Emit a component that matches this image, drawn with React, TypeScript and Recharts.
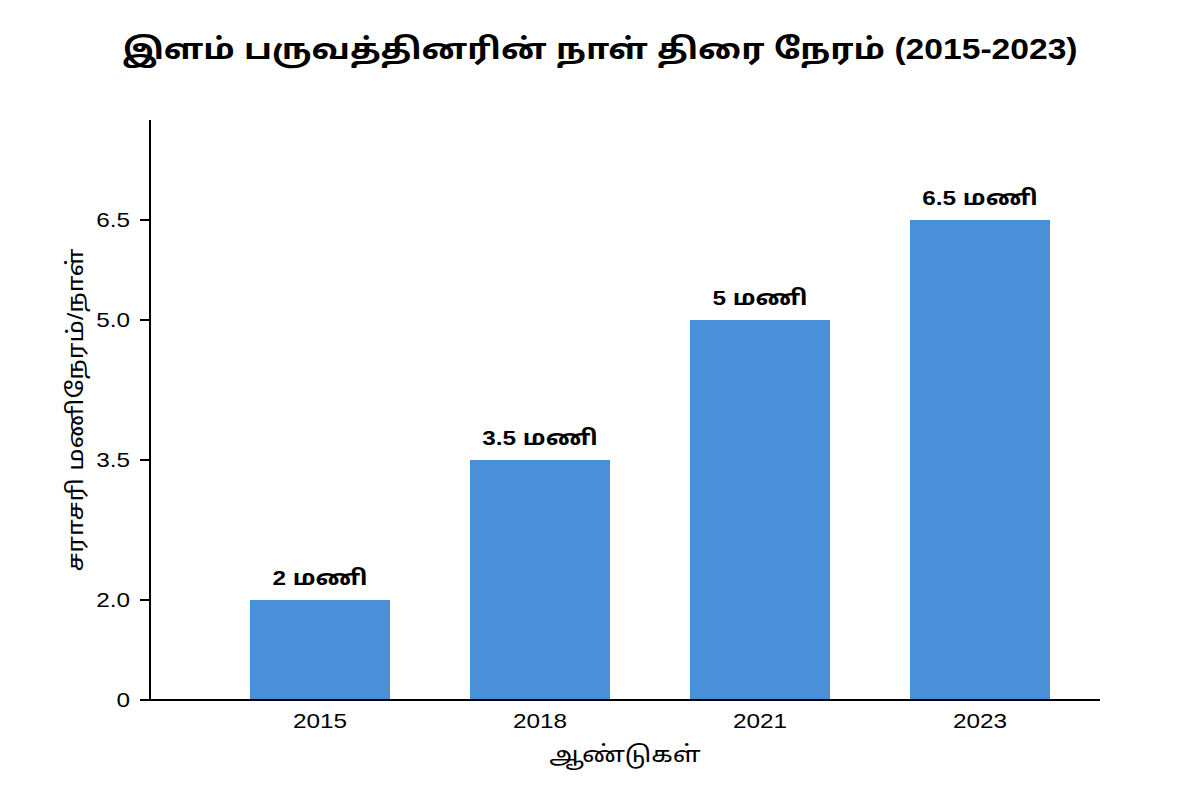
import React from 'react';
import { BarChart, Bar, XAxis, YAxis, LabelList, Label } from 'recharts';

// ---- data ----
const years = ['2015', '2018', '2021', '2023'];
const hours = [2, 3.5, 5, 6.5];
const yTicks = [0, 2, 3.5, 5, 6.5];
const yTickLabels = ['0', '2.0', '3.5', '5.0', '6.5'];
const titleText = 'இளம் பருவத்தினரின் நாள் திரை நேரம் (2015-2023)';
const xTitle = 'ஆண்டுகள்';
const yTitle = 'சராசரி மணிநேரம்/நாள்';
const valueUnit = 'மணி';

// The reference's value axis is not uniform: these breakpoints map values to
// shares of the axis length (piecewise-linear scale).
const yAxisStops = [0, 2, 3.5, 5, 6.5, 8];
const yAxisStopShare = [0, 100 / 580, 240 / 580, 380 / 580, 480 / 580, 1];

const data = years.map((year, i) => ({ year, hours: hours[i] }));

function makePiecewiseScale(
  stops: number[],
  shares: number[],
  initDomain?: number[],
  initRange?: number[]
): any {
  let dom = (initDomain || [stops[0], stops[stops.length - 1]]).slice();
  let rng = (initRange || [0, 1]).slice();
  const scale: any = (v: any) => {
    const x = Number(v);
    if (!isFinite(x)) return NaN;
    let i = 0;
    while (i < stops.length - 2 && x > stops[i + 1]) i++;
    const t = (x - stops[i]) / (stops[i + 1] - stops[i]);
    const f = shares[i] + t * (shares[i + 1] - shares[i]);
    return rng[0] + f * (rng[1] - rng[0]);
  };
  scale.domain = (...args: any[]) => {
    if (args.length === 0 || args[0] == null) return dom.slice();
    dom = args[0].slice();
    return scale;
  };
  scale.range = (...args: any[]) => {
    if (args.length === 0 || args[0] == null) return rng.slice();
    rng = args[0].slice();
    return scale;
  };
  scale.copy = () => makePiecewiseScale(stops, shares, dom, rng);
  scale.ticks = () => yTicks.slice();
  scale.tickFormat = () => (v: any) => String(v);
  scale.invert = (px: number) => {
    const f = (px - rng[0]) / (rng[1] - rng[0]);
    let i = 0;
    while (i < shares.length - 2 && f > shares[i + 1]) i++;
    const t = (f - shares[i]) / (shares[i + 1] - shares[i]);
    return stops[i] + t * (stops[i + 1] - stops[i]);
  };
  scale.clamp = () => scale;
  scale.nice = () => scale;
  return scale;
}

const yScale = makePiecewiseScale(yAxisStops, yAxisStopShare);

const FONT =
  "'Liberation Sans', 'Noto Sans Tamil', 'Noto Sans Tamil UI', 'Lohit Tamil', Arial, sans-serif";
// the reference's lettering is drawn wider than the font's natural width
const SX = 1.16;

function StretchText(props: any) {
  const { x, y, anchor, dy, rotate, children, ...rest } = props;
  const t = `translate(${x},${y})${rotate ? ` rotate(${rotate})` : ''} scale(${SX},1)`;
  return (
    <text
      transform={t}
      x={0}
      y={0}
      dy={dy}
      textAnchor={anchor}
      fontFamily={FONT}
      fill="#000"
      {...rest}
    >
      {children}
    </text>
  );
}

const XTick = (p: any) => (
  <StretchText x={p.x} y={p.y} anchor="middle" dy="0.71em" fontSize={21}>
    {p.payload?.value}
  </StretchText>
);

const YTick = (p: any) => {
  const v = p.payload?.value;
  const idx = yTicks.indexOf(v);
  return (
    <StretchText x={p.x} y={p.y} anchor="end" dy="0.355em" fontSize={21}>
      {idx >= 0 ? yTickLabels[idx] : String(v)}
    </StretchText>
  );
};

const BarValueLabel = (p: any) => {
  const vb = p.viewBox || p;
  const x = Number(vb.x) + Number(vb.width) / 2;
  const top = Math.min(Number(vb.y), Number(vb.y) + Number(vb.height));
  return (
    <StretchText x={x} y={top - 15} anchor="middle" fontSize={21} fontWeight="bold">
      {`${p.value} ${valueUnit}`}
    </StretchText>
  );
};

const XTitle = (p: any) => {
  const vb = p.viewBox || { x: 150, y: 700, width: 950, height: 70 };
  return (
    <StretchText x={vb.x + vb.width / 2} y={vb.y + 62} anchor="middle" fontSize={22.5}>
      {xTitle}
    </StretchText>
  );
};

const YTitle = (p: any) => {
  const vb = p.viewBox || { x: 0, y: 120, width: 150, height: 580 };
  return (
    <StretchText
      x={vb.x + 75}
      y={vb.y + vb.height / 2}
      rotate={-90}
      anchor="middle"
      dy="0.355em"
      fontSize={22.5}
    >
      {yTitle}
    </StretchText>
  );
};

export default function App() {
  return (
    <div
      style={{
        position: 'absolute',
        left: 0,
        top: 0,
        width: 1200,
        height: 800,
        background: '#fff',
        fontFamily: FONT,
      }}
    >
      <svg
        width={1200}
        height={100}
        style={{ position: 'absolute', left: 0, top: 0 }}
      >
        <StretchText x={600} y={58.5} anchor="middle" fontSize={29} fontWeight="bold">
          {titleText}
        </StretchText>
      </svg>
      <div style={{ position: 'absolute', left: 0, top: 0 }}>
        <BarChart
          width={1200}
          height={800}
          data={data}
          margin={{ top: 120, right: 100, bottom: 30, left: 0 }}
          style={{ fontFamily: FONT }}
        >
          <XAxis
            dataKey="year"
            height={70}
            padding={{ left: 60, right: 10 }}
            axisLine={{ stroke: '#000', strokeWidth: 2 }}
            tickLine={false}
            tickSize={0}
            tickMargin={13}
            tick={XTick}
          >
            <Label content={XTitle} />
          </XAxis>
          <YAxis
            type="number"
            width={150}
            domain={[0, 8]}
            scale={yScale}
            ticks={yTicks}
            interval={0}
            axisLine={{ stroke: '#000', strokeWidth: 2 }}
            tickLine={{ stroke: '#000', strokeWidth: 2 }}
            tickSize={10}
            tickMargin={10}
            tick={YTick}
          >
            <Label content={YTitle} />
          </YAxis>
          <Bar dataKey="hours" fill="#4a90d9" barSize={140} isAnimationActive={false}>
            <LabelList dataKey="hours" content={BarValueLabel} />
          </Bar>
        </BarChart>
      </div>
    </div>
  );
}
